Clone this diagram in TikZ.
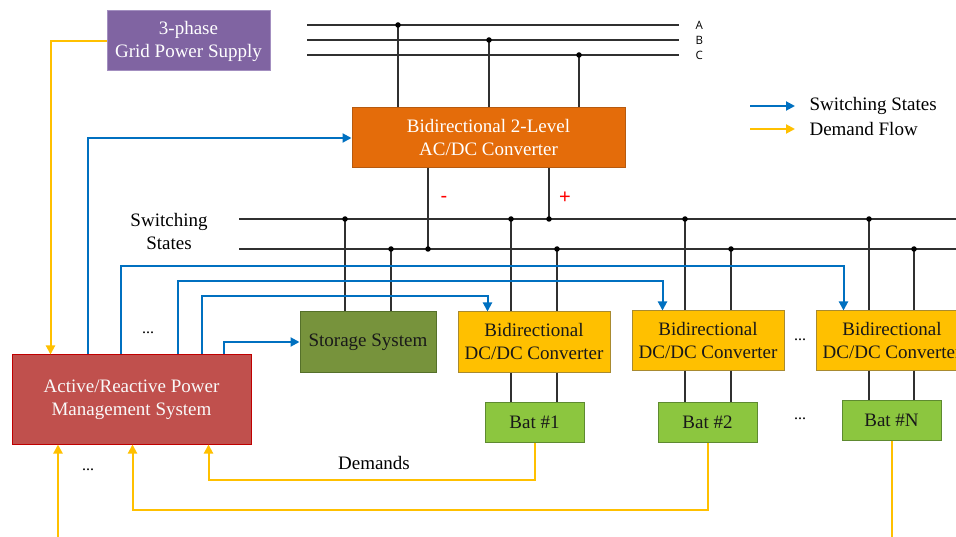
\documentclass[tikz,border=0pt]{standalone}
\usepackage{fontspec}
\setmainfont{Liberation Serif}
\newfontfamily\abcfont{Open Sans}
\newfontfamily\pmfont{Liberation Sans}
\usetikzlibrary{arrows.meta}
\definecolor{swblue}{HTML}{0070C0}
\definecolor{dmyel}{HTML}{FFC000}
\definecolor{gridfill}{HTML}{8064A2}
\definecolor{gridline}{HTML}{A38FC0}
\definecolor{acfill}{HTML}{E46C0A}
\definecolor{acline}{HTML}{B65A10}
\definecolor{pmsfill}{HTML}{C0504D}
\definecolor{pmsline}{HTML}{C00000}
\definecolor{stfill}{HTML}{77933C}
\definecolor{stline}{HTML}{55702A}
\definecolor{dcfill}{HTML}{FFC000}
\definecolor{dcline}{HTML}{A88A30}
\definecolor{batfill}{HTML}{8CC63F}
\definecolor{batline}{HTML}{5E8A30}
\definecolor{wire}{HTML}{303030}
\begin{document}
\begin{tikzpicture}[x=1pt,y=-1pt,
  font=\fontsize{19}{23}\selectfont,
  box/.style={draw, line width=1pt, inner sep=0pt, align=center},
  wirel/.style={draw=wire, line width=1.4pt},
  busl/.style={draw=wire, line width=1.6pt},
  jdot/.style={circle, fill=black, inner sep=0pt, minimum size=5.5pt},
  sw/.style={draw=swblue, line width=2pt, -{Triangle[length=9pt,width=9pt]}},
  dm/.style={draw=dmyel, line width=2pt, -{Triangle[length=9pt,width=9pt]}},
  dmn/.style={draw=dmyel, line width=2pt},
  pm/.style={text=red, font=\pmfont\fontsize{20}{20}\selectfont},
  abc/.style={font=\abcfont\fontsize{11.5}{11.5}\selectfont, anchor=west},
  dots/.style={font=\fontsize{16}{16}\selectfont}]
\useasboundingbox (0,0) rectangle (956,537);
\clip (0,0) rectangle (956,537);

% ---------- boxes ----------
\node[box, fill=gridfill, draw=gridline, text=white, minimum width=163pt, minimum height=60pt] (grid) at (188.5,41) {3-phase\\Grid Power Supply};
\node[box, fill=acfill, draw=acline, text=white, minimum width=273pt, minimum height=60pt] (acdc) at (488.5,138) {Bidirectional 2-Level\\AC/DC Converter};
\node[box, fill=pmsfill, draw=pmsline, text=white!95!gray, minimum width=239pt, minimum height=89pt] (pms) at (131.5,399.5) {Active/Reactive Power\\Management System};
\node[box, fill=stfill, draw=stline, text=black!90, minimum width=136pt, minimum height=60pt] (stor) at (368,342) {Storage System};
\node[box, fill=dcfill, draw=dcline, text=black!90, minimum width=152pt, minimum height=60pt] (dc1) at (534,342) {Bidirectional\\DC/DC Converter};
\node[box, fill=dcfill, draw=dcline, text=black!90, minimum width=152pt, minimum height=59pt] (dc2) at (708,340.5) {Bidirectional\\DC/DC Converter};
\node[box, fill=dcfill, draw=dcline, text=black!90, minimum width=152pt, minimum height=59pt] (dcN) at (892,340.5) {Bidirectional\\DC/DC Converter};
\node[box, fill=batfill, draw=batline, text=black!90, minimum width=99pt, minimum height=40pt] (bat1) at (534.5,422) {Bat \#1};
\node[box, fill=batfill, draw=batline, text=black!90, minimum width=99pt, minimum height=40pt] (bat2) at (707.5,422) {Bat \#2};
\node[box, fill=batfill, draw=batline, text=black!90, minimum width=99pt, minimum height=40pt] (batN) at (891.5,420) {Bat \#N};

% ---------- three-phase lines ----------
\coordinate (pA0) at (307,25); \coordinate (pA1) at (679,25);
\coordinate (pB0) at (307,40); \coordinate (pB1) at (679,40);
\coordinate (pC0) at (307,55); \coordinate (pC1) at (679,55);
\draw[busl] (pA0) -- (pA1);
\draw[busl] (pB0) -- (pB1);
\draw[busl] (pC0) -- (pC1);
\node[abc] (lA) at (692,25) {A};
\node[abc] (lB) at (692,40) {B};
\node[abc] (lC) at (692,55) {C};
\coordinate (jA) at (398,25);
\coordinate (jB) at (489,40);
\coordinate (jC) at (579,55);
\draw[wirel] (jA) -- (jA |- acdc.north);
\draw[wirel] (jB) -- (jB |- acdc.north);
\draw[wirel] (jC) -- (jC |- acdc.north);
\node[jdot] (dA) at (jA) {};
\node[jdot] (dB) at (jB) {};
\node[jdot] (dC) at (jC) {};

% ---------- DC buses ----------
\coordinate (bP0) at (239,219); \coordinate (bP1) at (960,219);
\coordinate (bN0) at (239,249); \coordinate (bN1) at (960,249);
\draw[busl] (bP0) -- (bP1);
\draw[busl] (bN0) -- (bN1);
\node (swlabel) at (169,232) [align=center] {Switching\\States};

\coordinate (ap) at (549,219);
\coordinate (an) at (428,249);
\coordinate (s1) at (345,219);
\coordinate (s2) at (391,249);
\coordinate (d1p) at (511,219);
\coordinate (d1n) at (557,249);
\coordinate (d2p) at (685,219);
\coordinate (d2n) at (731,249);
\coordinate (dNp) at (869,219);
\coordinate (dNn) at (914,249);

\draw[wirel] (ap |- acdc.south) -- (ap);
\draw[wirel] (an |- acdc.south) -- (an);
\node[pm] (minus) at (444,199) {-};
\node[pm] (plus) at (565,198) {+};

\draw[wirel] (s1) -- (s1 |- stor.north);
\draw[wirel] (s2) -- (s2 |- stor.north);
\draw[wirel] (d1p) -- (d1p |- dc1.north);
\draw[wirel] (d1n) -- (d1n |- dc1.north);
\draw[wirel] (d2p) -- (d2p |- dc2.north);
\draw[wirel] (d2n) -- (d2n |- dc2.north);
\draw[wirel] (dNp) -- (dNp |- dcN.north);
\draw[wirel] (dNn) -- (dNn |- dcN.north);

\draw[wirel] (d1p |- dc1.south) -- (d1p |- bat1.north);
\draw[wirel] (d1n |- dc1.south) -- (d1n |- bat1.north);
\draw[wirel] (d2p |- dc2.south) -- (d2p |- bat2.north);
\draw[wirel] (d2n |- dc2.south) -- (d2n |- bat2.north);
\draw[wirel] (dNp |- dcN.south) -- (dNp |- batN.north);
\draw[wirel] (dNn |- dcN.south) -- (dNn |- batN.north);

\foreach \j in {ap,an,s1,s2,d1p,d1n,d2p,d2n,dNp,dNn} {\node[jdot] at (\j) {};}

% ---------- switching-state arrows ----------
\draw[sw] ([xshift=76pt]pms.north west) |- (acdc.west);
\draw[sw] ([xshift=109pt]pms.north west) -- ++(0,-88) -| ([xshift=28pt]dcN.north west);
\draw[sw] ([xshift=166pt]pms.north west) -- ++(0,-73) -| ([xshift=31pt]dc2.north west);
\draw[sw] ([xshift=190pt]pms.north west) -- ++(0,-58) -| ([xshift=30pt]dc1.north west);
\draw[sw] ([xshift=212pt]pms.north west) |- (stor.west);

% ---------- demand arrows ----------
\draw[dm] (grid.west) -| ([xshift=39pt]pms.north west);
\draw[dm] (bat1.south) -- ++(0,37) -| ([xshift=197pt]pms.south west);
\draw[dm] (bat2.south) -- ++(0,67) -| ([xshift=121pt]pms.south west);
\coordinate (batNend) at (891.5,545);
\draw[dmn] (batN.south) -- (batNend);
\coordinate (pmsIn) at (58,545);
\draw[dm] (pmsIn) -- (pmsIn |- pms.south);
\node (demlabel) at (374,463) {Demands};

% ---------- dots ----------
\node[dots] (e1) at (148,333) {...};
\node[dots] (e2) at (88,470) {...};
\node[dots] (e3) at (800,340) {...};
\node[dots] (e4) at (800,419) {...};

% ---------- legend ----------
\coordinate (lg1a) at (750,106); \coordinate (lg1b) at (795,106);
\coordinate (lg2a) at (750,129); \coordinate (lg2b) at (795,129);
\draw[sw] (lg1a) -- (lg1b);
\draw[dm] (lg2a) -- (lg2b);
\node[anchor=west] (lgt1) at (806,106) {Switching States};
\node[anchor=west] (lgt2) at (806,129) {Demand Flow};
\end{tikzpicture}
\end{document}
